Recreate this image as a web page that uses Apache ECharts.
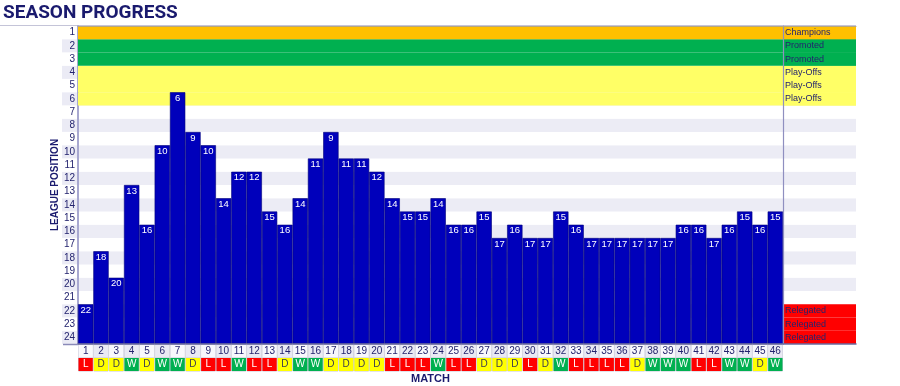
<!DOCTYPE html>
<html><head><meta charset="utf-8">
<script src="https://cdn.jsdelivr.net/npm/echarts@6/dist/echarts.min.js"></script>
<style>html,body{margin:0;padding:0;background:#fff}#c{width:900px;height:386px}</style>
</head><body><div id="c"></div>
<script>
const matches = ['1','2','3','4','5','6','7','8','9','10','11','12','13','14','15','16','17','18','19','20','21','22','23','24','25','26','27','28','29','30','31','32','33','34','35','36','37','38','39','40','41','42','43','44','45','46'];
const positions = [22,18,20,13,16,10,6,9,10,14,12,12,15,16,14,11,9,11,11,12,14,15,15,14,16,16,15,17,16,17,17,15,16,17,17,17,17,17,17,16,16,17,16,15,16,15];
const results = ['L','D','D','W','D','W','W','D','L','L','W','L','L','D','W','W','D','D','D','D','L','L','L','W','L','L','D','D','D','L','D','W','L','L','L','L','D','W','W','W','L','L','W','W','D','W'];
const rowTicks = ['1','2','3','4','5','6','7','8','9','10','11','12','13','14','15','16','17','18','19','20','21','22','23','24'];
const zoneNames = ['Champions','Promoted','Promoted','Play-Offs','Play-Offs','Play-Offs','','','','','','','','','','','','','','','','Relegated','Relegated','Relegated'];
const zoneColors = {'Champions':'#ffc000','Promoted':'#00b050','Play-Offs':'#ffff66','Relegated':'#ff0000'};
const resultColors = {'W':'#00b050','D':'#ffff00','L':'#ff0000'};

const FONT = 'Liberation Sans';
const NAVY = '#23236e';
const rowsBottomUp = rowTicks.slice().reverse();
const nRows = rowTicks.length;

const chart = echarts.init(document.getElementById('c'), null, {renderer:'canvas'});

const cell = {width:14.3, height:13, lineHeight:13, borderColor:'#c6c6d6', borderWidth:0.5, align:'center', fontSize:10, fontFamily:FONT};
const xRich = {
  n1:Object.assign({}, cell, {backgroundColor:'#f8f8fc', color:NAVY}),
  n2:Object.assign({}, cell, {backgroundColor:'#e9e9f3', color:NAVY})
};
Object.keys(resultColors).forEach(k => {
  xRich[k] = Object.assign({}, cell, {backgroundColor:resultColors[k], color: k === 'D' ? '#3a3a50' : '#ffffff'});
});

const hiddenValueX = (g) => ({gridIndex:g, type:'value', min:0, max:1, show:false});
const hiddenCatY = (g) => ({gridIndex:g, type:'category', data:rowsBottomUp, show:false});

const option = {
  animation:false,
  title:{text:'SEASON PROGRESS', left:3, top:4, padding:0, textStyle:{fontSize:19, fontWeight:'bold', color:'#1a1a6e', fontFamily:'Roboto'}},
  graphic:[
    {type:'line', shape:{x1:0, y1:25.5, x2:856, y2:25.5}, style:{stroke:'#c4c4d8', lineWidth:1}, z:0},
    {type:'line', shape:{x1:63, y1:344.5, x2:78, y2:344.5}, style:{stroke:'#8a8ab8', lineWidth:1.5}, z:10}
  ],
  grid:[
    {left:78, right:44, top:26, bottom:42, outerBoundsMode:'none', containLabel:false},
    {left:78, right:117, top:26, bottom:42, outerBoundsMode:'none', containLabel:false},
    {left:783, right:44, top:26, bottom:42, outerBoundsMode:'none', containLabel:false}
  ],
  xAxis:[
    {gridIndex:0, type:'value', min:0, max:1, z:6, axisLine:{show:true, lineStyle:{color:'#6a6aa0', width:1.5}}, axisLabel:{show:false}, axisTick:{show:false}, splitLine:{show:false}},
    {gridIndex:0, type:'value', position:'top', min:0, max:1, z:6, axisLine:{show:true, lineStyle:{color:'#b8a67c', width:1}}, axisLabel:{show:false}, axisTick:{show:false}, splitLine:{show:false}},
    {gridIndex:1, type:'category', data:matches, axisLine:{show:false}, axisTick:{show:false},
     axisLabel:{interval:0, margin:1, rich:xRich,
       formatter:(v, i) => '{' + (i % 2 === 0 ? 'n1' : 'n2') + '|' + v + '}\n{' + results[i] + '|' + results[i] + '}'},
     name:'MATCH', nameLocation:'middle', nameGap:29, nameMoveOverlap:false,
     nameTextStyle:{fontSize:11, fontWeight:'bold', color:'#1a1a6e', fontFamily:FONT}},
    hiddenValueX(2)
  ],
  yAxis:[
    {gridIndex:0, type:'category', data:rowsBottomUp,
     axisLine:{show:true, lineStyle:{color:'#a8a8d0', width:2}}, axisTick:{show:false},
     splitArea:{show:true, areaStyle:{color:['#ececf5','#ffffff']}},
     axisLabel:{margin:1, interval:0,
       formatter:v => (+v % 2 === 0 ? '{g|' : '{w|') + v + '}',
       rich:{
         g:{backgroundColor:'#ebebf5', width:13, height:13, lineHeight:13, align:'right', padding:[0,2,0,0], fontSize:10, color:NAVY, fontFamily:FONT},
         w:{width:13, height:13, lineHeight:13, align:'right', padding:[0,2,0,0], fontSize:10, color:NAVY, fontFamily:FONT}
       }},
     name:'LEAGUE POSITION', nameLocation:'middle', nameGap:18, nameRotate:90, nameMoveOverlap:false,
     nameTextStyle:{fontSize:10, fontWeight:'bold', color:'#1a1a6e', fontFamily:FONT}},
    {gridIndex:1, type:'value', min:0, max:nRows, position:'right', z:6,
     axisLine:{show:true, lineStyle:{color:'#8f8fc0', width:1.2}}, axisLabel:{show:false}, axisTick:{show:false}, splitLine:{show:false}},
    hiddenCatY(2)
  ],
  series:[
    // zone colours across the match area (upper zones only; the relegation rows are fully covered by bars)
    {type:'bar', xAxisIndex:0, yAxisIndex:0, barWidth:'100%', z:1, silent:true,
     data: rowsBottomUp.map(r => {
       const name = zoneNames[+r - 1];
       return (name && name !== 'Relegated') ? {value:1, itemStyle:{color:zoneColors[name]}} : {value:'-'};
     })},
    // zone legend column
    {type:'bar', xAxisIndex:3, yAxisIndex:2, barWidth:'100%', z:2, silent:true,
     data: rowsBottomUp.map(r => {
       const name = zoneNames[+r - 1];
       return name ? {value:1, itemStyle:{color:zoneColors[name]}, label:{show:true, formatter:name}} : {value:'-'};
     }),
     label:{show:false, position:'insideLeft', distance:2, fontSize:9, color:NAVY, fontFamily:FONT}},
    {type:'bar', xAxisIndex:2, yAxisIndex:1, barCategoryGap:'0%', z:3,
     data: positions.map(p => nRows + 1 - p),
     itemStyle:{color:'#0000bb', borderColor:'#00007a', borderWidth:0.6},
     label:{show:true, position:'insideTop', distance:1, formatter:p => positions[p.dataIndex], color:'#ffffff', fontSize:9.5, fontFamily:FONT}}
  ]
};
chart.setOption(option);
</script></body></html>
